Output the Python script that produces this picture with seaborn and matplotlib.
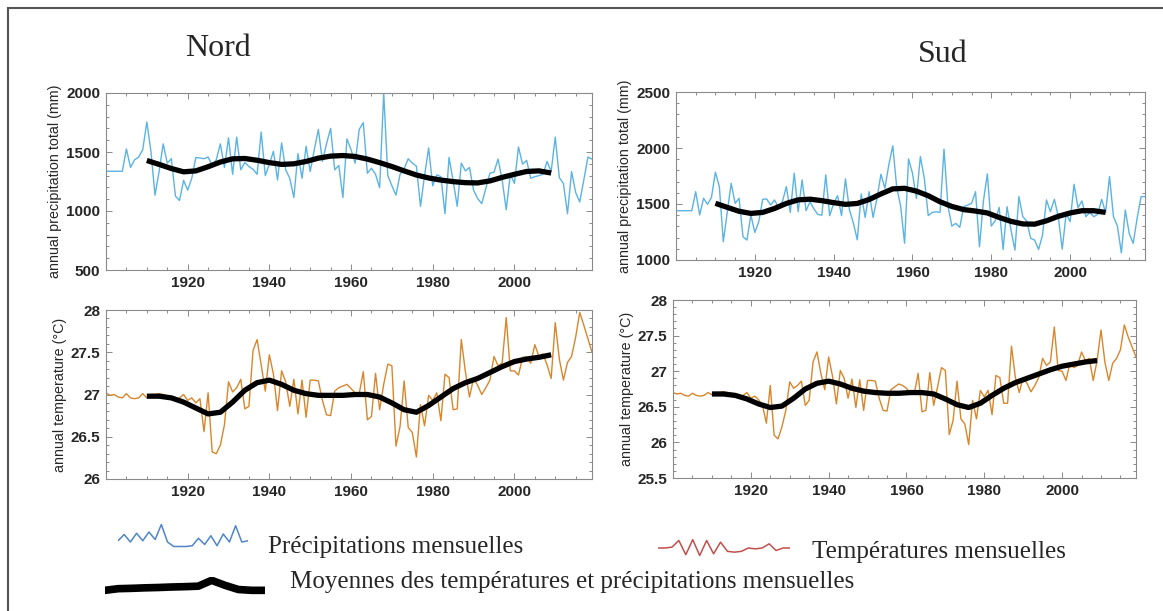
import numpy as np
import pandas as pd
import matplotlib
matplotlib.use("Agg")
import matplotlib.pyplot as plt
import seaborn as sns
from matplotlib.patches import Rectangle
from matplotlib.ticker import MultipleLocator

# years of the annual series and of the smoothed curve
years = list(range(1900, 2020))
smooth_years = list(range(1910, 2010, 3))

# Nord - annual precipitation total (mm)
nord_precip = [
    1337, 1337, 1337, 1337, 1337, 1526, 1369, 1434, 1457, 1520,
    1754, 1506, 1134, 1334, 1569, 1406, 1443, 1126, 1089, 1260,
    1177, 1277, 1454, 1449, 1443, 1457, 1386, 1434, 1569, 1369,
    1620, 1311, 1626, 1349, 1411, 1377, 1354, 1311, 1669, 1300,
    1397, 1506, 1263, 1577, 1349, 1277, 1114, 1486, 1277, 1549,
    1334, 1520, 1691, 1420, 1571, 1700, 1349, 1386, 1114, 1611,
    1520, 1406, 1691, 1749, 1320, 1363, 1311, 1197, 2000, 1300,
    1214, 1134, 1311, 1357, 1443, 1406, 1380, 1040, 1300, 1534,
    1214, 1306, 1291, 977, 1454, 1254, 1040, 1406, 1340, 1369,
    1177, 1106, 1063, 1191, 1320, 1329, 1440, 1263, 1011, 1311,
    1234, 1543, 1397, 1429, 1277, 1291, 1300, 1311, 1420, 1334,
    1626, 1283, 1234, 977, 1334, 1157, 1077, 1263, 1457, 1440,
]
nord_precip_smooth = [
    1428, 1395, 1360, 1332, 1340, 1375, 1415, 1442, 1445, 1430,
    1410, 1395, 1400, 1420, 1448, 1465, 1470, 1462, 1440, 1410,
    1377, 1340, 1305, 1280, 1262, 1249, 1240, 1238, 1255, 1285,
    1311, 1335, 1340, 1322,
]

# Nord - annual temperature (degC)
nord_temp = [
    27.02, 26.99, 27.00, 26.97, 26.96, 27.01, 26.96, 26.95, 26.96, 27.01,
    26.96, 27.00, 27.00, 27.01, 27.00, 26.98, 26.96, 26.93, 26.96, 27.00,
    26.93, 26.96, 26.90, 26.95, 26.56, 27.02, 26.32, 26.30, 26.40, 26.64,
    27.15, 27.03, 27.08, 27.18, 26.83, 26.86, 27.52, 27.65, 27.35, 27.04,
    27.47, 27.24, 26.81, 27.28, 27.15, 26.86, 27.18, 26.77, 27.17, 26.73,
    27.17, 27.17, 27.16, 26.93, 26.76, 26.75, 27.04, 27.08, 27.10, 27.12,
    27.07, 27.02, 27.01, 27.27, 26.70, 26.74, 27.25, 26.82, 27.12, 27.36,
    27.34, 26.39, 26.62, 27.16, 26.61, 26.55, 26.26, 26.88, 26.63, 26.99,
    26.93, 27.02, 26.69, 27.24, 27.20, 26.82, 26.83, 27.65, 27.27, 26.97,
    27.19, 27.11, 27.00, 27.08, 27.17, 27.45, 27.34, 27.37, 27.91, 27.28,
    27.28, 27.23, 27.44, 27.44, 27.37, 27.59, 27.45, 27.48, 27.35, 27.19,
    27.85, 27.42, 27.17, 27.38, 27.45, 27.68, 27.97, 27.82, 27.66, 27.50,
]
nord_temp_smooth = [
    26.98, 26.98, 26.96, 26.91, 26.84, 26.77, 26.79, 26.91, 27.05, 27.14,
    27.17, 27.12, 27.05, 27.01, 26.99, 26.99, 26.99, 27.00, 27.00, 26.97,
    26.90, 26.82, 26.79, 26.87, 26.97, 27.07, 27.14, 27.19, 27.26, 27.33,
    27.39, 27.42, 27.44, 27.47,
]

# Sud - annual precipitation total (mm)
sud_precip = [
    1440, 1440, 1440, 1440, 1440, 1610, 1402, 1551, 1497, 1560,
    1784, 1655, 1163, 1425, 1685, 1506, 1551, 1207, 1178, 1402,
    1246, 1342, 1542, 1545, 1491, 1536, 1470, 1521, 1655, 1425,
    1775, 1431, 1715, 1440, 1521, 1455, 1407, 1400, 1760, 1396,
    1506, 1575, 1396, 1724, 1450, 1330, 1180, 1590, 1380, 1610,
    1380, 1550, 1766, 1640, 1850, 2020, 1650, 1480, 1150, 1903,
    1775, 1550, 1924, 1730, 1396, 1425, 1430, 1425, 1990, 1480,
    1303, 1327, 1291, 1476, 1490, 1506, 1610, 1118, 1527, 1769,
    1303, 1351, 1470, 1094, 1476, 1267, 1088, 1566, 1387, 1348,
    1193, 1178, 1094, 1222, 1536, 1431, 1542, 1387, 1097, 1416,
    1342, 1676, 1467, 1527, 1387, 1425, 1387, 1407, 1542, 1425,
    1745, 1387, 1303, 1064, 1446, 1237, 1148, 1372, 1566, 1566,
]
sud_precip_smooth = [
    1506, 1470, 1435, 1416, 1425, 1460, 1505, 1537, 1543, 1530,
    1512, 1497, 1505, 1540, 1590, 1635, 1640, 1615, 1574, 1520,
    1478, 1450, 1437, 1420, 1380, 1345, 1322, 1320, 1350, 1390,
    1420, 1440, 1440, 1425,
]

# Sud - annual temperature (degC)
sud_temp = [
    26.70, 26.68, 26.69, 26.66, 26.65, 26.69, 26.66, 26.65, 26.66, 26.70,
    26.67, 26.70, 26.70, 26.71, 26.70, 26.68, 26.66, 26.63, 26.66, 26.70,
    26.62, 26.65, 26.60, 26.52, 26.27, 26.80, 26.10, 26.05, 26.22, 26.45,
    26.85, 26.76, 26.80, 26.86, 26.52, 26.59, 27.13, 27.27, 26.97, 26.74,
    27.20, 26.93, 26.54, 27.01, 26.90, 26.62, 26.89, 26.49, 26.88, 26.45,
    26.87, 26.87, 26.86, 26.62, 26.45, 26.44, 26.74, 26.78, 26.82, 26.80,
    26.76, 26.69, 26.68, 26.97, 26.43, 26.45, 26.98, 26.52, 26.78, 27.05,
    27.01, 26.11, 26.31, 26.86, 26.33, 26.26, 25.97, 26.59, 26.33, 26.73,
    26.64, 26.73, 26.39, 26.94, 26.91, 26.55, 26.55, 27.35, 26.91, 26.70,
    26.91, 26.83, 26.71, 26.80, 26.91, 27.18, 27.08, 27.13, 27.62, 27.01,
    27.00, 26.87, 27.11, 27.05, 27.08, 27.27, 27.15, 27.18, 26.87, 27.15,
    27.58, 27.13, 26.87, 27.11, 27.18, 27.30, 27.65, 27.48, 27.34, 27.20,
]
sud_temp_smooth = [
    26.68, 26.68, 26.66, 26.61, 26.54, 26.49, 26.51, 26.62, 26.75, 26.83,
    26.86, 26.82, 26.76, 26.72, 26.70, 26.69, 26.69, 26.70, 26.70, 26.68,
    26.61, 26.53, 26.49, 26.55, 26.66, 26.76, 26.84, 26.90, 26.96, 27.02,
    27.07, 27.10, 27.13, 27.15,
]

# shapes of the hand drawn legend glyphs
icon_precip = [0.35, 0.6, 0.3, 0.65, 0.35, 0.7, 0.4, 1.0, 0.3, 0.12, 0.12, 0.12,
               0.15, 0.45, 0.2, 0.55, 0.15, 0.62, 0.3, 0.95, 0.3, 0.35]
icon_temp = [0.5, 0.5, 0.55, 0.95, 0.1, 1.0, 0.05, 0.95, 0.15, 0.85, 0.3, 0.25,
             0.3, 0.5, 0.45, 0.5, 0.75, 0.35, 0.5, 0.5]
icon_mean = [0.3, 0.4, 0.42, 0.45, 0.47, 0.5, 0.52, 0.55, 0.9, 0.6, 0.35, 0.3, 0.3]

BLUE = "#5BB3E3"
ORANGE = "#D8862C"
W, H = 1163, 611

sns.set_theme(style="ticks")
plt.rcParams["font.family"] = ["Liberation Sans", "DejaVu Sans"]

fig = plt.figure(figsize=(W / 100, H / 100), dpi=100)


def box(x0, y0, x1, y1):
    # pixel box (from the top-left) to figure fraction
    return [x0 / W, 1 - y1 / H, (x1 - x0) / W, (y1 - y0) / H]


panels = [
    (box(106, 93, 592, 270), nord_precip, nord_precip_smooth, BLUE,
     (500, 2000), 500, 100, "annual precipitation total (mm)"),
    (box(106, 310, 592, 479), nord_temp, nord_temp_smooth, ORANGE,
     (26, 28), 0.5, 0.1, "annual temperature (°C)"),
    (box(676, 92, 1145, 260), sud_precip, sud_precip_smooth, BLUE,
     (1000, 2500), 500, 100, "annual precipitation total (mm)"),
    (box(673, 300, 1136, 478), sud_temp, sud_temp_smooth, ORANGE,
     (25.5, 28), 0.5, 0.1, "annual temperature (°C)"),
]

for rect, raw, smooth, col, ylim, major, minor, ylab in panels:
    ax = fig.add_axes(rect)
    df_raw = pd.DataFrame({"year": years, "value": raw})
    df_smooth = pd.DataFrame({"year": smooth_years, "value": smooth})
    sns.lineplot(data=df_raw, x="year", y="value", ax=ax, color=col, lw=1.0)
    sns.lineplot(data=df_smooth, x="year", y="value", ax=ax, color="black",
                 lw=3.8, solid_capstyle="butt")
    ax.set_xlim(1900, 2019)
    ax.set_ylim(*ylim)
    ax.xaxis.set_major_locator(MultipleLocator(20))
    ax.xaxis.set_minor_locator(MultipleLocator(5))
    ax.yaxis.set_major_locator(MultipleLocator(major))
    ax.yaxis.set_minor_locator(MultipleLocator(minor))
    ax.set_xticks([1920, 1940, 1960, 1980, 2000])
    if major == 0.5:
        ax.set_yticklabels([f"{v:g}" for v in ax.get_yticks()])
    ax.tick_params(which="both", direction="in", top=True, right=True,
                   color="#777777", width=0.6)
    ax.tick_params(which="major", length=4, labelsize=11, labelcolor="#262626", pad=4)
    ax.tick_params(which="minor", length=2)
    for lbl in ax.get_xticklabels() + ax.get_yticklabels():
        lbl.set_fontweight("bold")
    for sp in ax.spines.values():
        sp.set_color("#8a8a8a")
        sp.set_linewidth(0.8)
    ax.set_xlabel("")
    ax.set_ylabel(ylab, fontsize=10.3, color="#262626", labelpad=3)

# titles
fig.text(218 / W, 1 - 48 / H, "Nord", family="Liberation Serif", fontsize=23,
         ha="center", va="center")
fig.text(943 / W, 1 - 55 / H, "Sud", family="Liberation Serif", fontsize=23,
         ha="center", va="center")

# legend glyphs and texts
icons = [
    (box(118, 522, 248, 552), icon_precip, "#4F86C6", 1.1),
    (box(658, 538, 790, 558), icon_temp, "#C0504D", 1.1),
    (box(105, 577, 265, 597), icon_mean, "black", 5.5),
]
for rect, shape, col, lw in icons:
    iax = fig.add_axes(rect)
    sns.lineplot(x=np.arange(len(shape)), y=shape, ax=iax, color=col, lw=lw)
    iax.set_ylim(-0.1, 1.1)
    iax.set_xlim(0, len(shape) - 1)
    iax.axis("off")

fig.text(268 / W, 1 - 547 / H, "Précipitations mensuelles", family="Liberation Serif",
         fontsize=18, va="center")
fig.text(812 / W, 1 - 552 / H, "Températures mensuelles", family="Liberation Serif",
         fontsize=18, va="center")
fig.text(290 / W, 1 - 582 / H, "Moyennes des températures et précipitations mensuelles",
         family="Liberation Serif", fontsize=18, va="center")

# outer frame of the composite
fig.add_artist(Rectangle((8 / W, -0.1), 1.2, 1 - 8 / H + 0.1, fill=False,
                         ec="#555555", lw=1.5, transform=fig.transFigure))

fig.savefig("out.png", dpi=100)
